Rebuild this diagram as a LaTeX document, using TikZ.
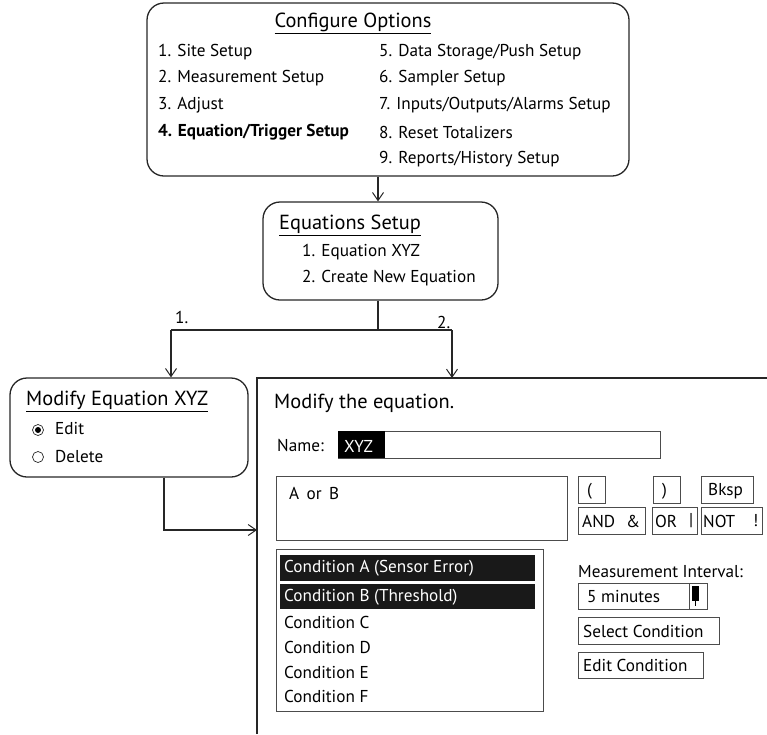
\documentclass[tikz,border=0pt]{standalone}
\usepackage{fontspec}
\setmainfont{PT Sans}
\usetikzlibrary{arrows.meta}
\begin{document}
\begin{tikzpicture}[x=1pt,y=-1pt,
  rbox/.style={draw=black!85,line width=1.3pt,rounded corners=17pt,inner sep=0pt},
  ibox/.style={draw=black!70,line width=0.9pt,inner sep=0pt},
  txt/.style={anchor=west,inner sep=0pt,font=\fontsize{17.2}{19}\selectfont},
  ttl/.style={anchor=west,inner sep=0pt,font=\fontsize{20.4}{22}\selectfont},
  arr/.style={draw=black!85,line width=1.1pt,-{Straight Barb[length=8pt,width=11pt,line width=1pt]}},
  conn/.style={draw=black!85,line width=1.1pt}]
\useasboundingbox (0,0) rectangle (767,734);
% Configure Options
\node[rbox,minimum width=482,minimum height=173] (cfg) at (388,89.5) {};
\node[ttl,anchor=center] (cfgt) at (353,23) {\underline{Configure Options}};
\node[txt] (c1) at (158,52) {1. Site Setup};
\node[txt] (c2) at (158,78) {2. Measurement Setup};
\node[txt] (c3) at (158,105) {3. Adjust};
\node[txt] (c4) at (158,132) {\textbf{4. Equation/Trigger Setup}};
\node[txt] (c5) at (379,52) {5. Data Storage/Push Setup};
\node[txt] (c6) at (379,78) {6. Sampler Setup};
\node[txt] (c7) at (379,105) {7. Inputs/Outputs/Alarms Setup};
\node[txt] (c8) at (379,132) {8. Reset Totalizers};
\node[txt] (c9) at (379,159) {9. Reports/History Setup};
% Equations Setup
\node[rbox,minimum width=235,minimum height=98] (eqs) at (380.5,251) {};
\node[ttl] (eqst) at (279,225) {\underline{Equations Setup}};
\node[txt] (e1) at (302,252) {1. Equation XYZ};
\node[txt] (e2) at (302,278) {2. Create New Equation};
\draw[arr] (cfg.south -| 378,0) -- (eqs.north -| 378,0);
% Modify Equation XYZ
\node[rbox,minimum width=238,minimum height=99] (mod) at (129,427.5) {};
\node[ttl] (modt) at (26,401) {\underline{Modify Equation XYZ}};
\node[circle,draw=black!85,line width=0.7pt,minimum size=11,inner sep=0pt] (r1) at (38,430) {};
\fill[black] (r1.center) circle (3);
\node[circle,draw=black!85,line width=0.7pt,minimum size=11,inner sep=0pt] (r2) at (38,457) {};
\node[txt] (edit) at (55,429) {Edit};
\node[txt] (del) at (55,457) {Delete};
% panel frame
\coordinate (ptl) at (257,378);
\coordinate (ptr) at (767,378);
\coordinate (pbl) at (257,734);
\draw[black!85,line width=1.8pt] (pbl) -- (ptl) -- (ptr);
% branching connectors
\coordinate (br) at (378,330);
\coordinate (bl) at (171,330);
\coordinate (brr) at (452,330);
\draw[conn] (eqs.south -| br) -- (br);
\draw[conn] (bl) -- (brr);
\draw[arr] (bl) -- (mod.north -| bl);
\draw[arr] (brr) -- (ptl -| brr);
\node[txt] (l1) at (175,317) {1.};
\node[txt] (l2) at (437,322) {2.};
\coordinate (mc) at (164,530);
\draw[arr] (mod.south -| mc) -- (mc) -- (ptl |- mc);
% panel content
\node[ttl] (mte) at (274,403) {Modify the equation.};
\node[txt] (namel) at (277,445) {Name:};
\node[ibox,minimum width=322,minimum height=27] (namef) at (499,444.5) {};
\fill[black] (338,431) rectangle (385,458);
\node[txt,text=white] (xyz) at (344,446) {XYZ};
\node[ibox,minimum width=291,minimum height=64] (eqb) at (421.5,508) {};
\node[txt] (aorb) at (289,493) {A\, or\, B};
% buttons
\node[ibox,minimum width=27,minimum height=27] (bo) at (591.5,489.5) {};
\node[txt] at (587,491) {(};
\node[ibox,minimum width=27,minimum height=27] (bc) at (666.5,489.5) {};
\node[txt] at (662,491) {)};
\node[ibox,minimum width=52,minimum height=27] (bk) at (727.5,489.5) {};
\node[txt] at (708,491) {Bksp};
\node[ibox,minimum width=67,minimum height=27] (band) at (611.5,521) {};
\node[txt] at (582,521) {AND};
\node[txt] at (626,521) {\&};
\node[ibox,minimum width=45,minimum height=27] (bor) at (674.5,521) {};
\node[txt] at (655,521) {OR};
\node[txt] at (689,521) {|};
\node[ibox,minimum width=61,minimum height=27] (bnot) at (731.5,521) {};
\node[txt] at (703,521) {NOT};
\node[txt] at (753,521) {!};
% condition list
\node[ibox,minimum width=267,minimum height=162] (lst) at (409.5,630) {};
\fill[black!90] (280,555) rectangle (535,581);
\fill[black!90] (280,584) rectangle (535,609);
\node[txt,text=white] (ca) at (284,568) {Condition A (Sensor Error)};
\node[txt,text=white] (cb) at (284,597) {Condition B (Threshold)};
\node[txt] (cc) at (284,622) {Condition C};
\node[txt] (cd) at (284,647) {Condition D};
\node[txt] (ce) at (284,672) {Condition E};
\node[txt] (cf) at (284,696) {Condition F};
% right controls
\node[txt] (mi) at (578,572) {Measurement Interval:};
\node[ibox,minimum width=129,minimum height=26] (dd) at (642.5,596) {};
\draw[black!70,line width=0.9pt] (689,583) -- (689,609);
\fill[black] (692,586) rectangle (699,601);
\draw[black,line width=1pt] (695.5,600) -- (695.5,606);
\node[txt] (fm) at (587,597) {5 minutes};
\node[ibox,minimum width=141,minimum height=27] (sc) at (648.5,630.5) {};
\node[txt] at (583,631) {Select Condition};
\node[ibox,minimum width=125,minimum height=26] (ec) at (640.5,665) {};
\node[txt] at (583,665) {Edit Condition};
\end{tikzpicture}
\end{document}
